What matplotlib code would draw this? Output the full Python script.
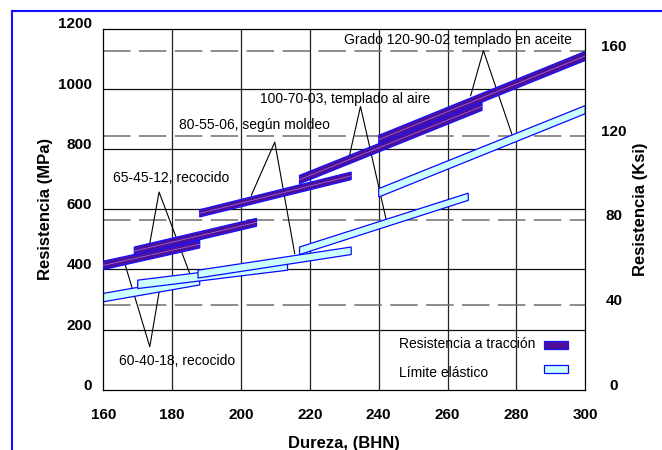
import matplotlib
matplotlib.use('Agg')
import matplotlib.pyplot as plt
from matplotlib.patches import Rectangle
from matplotlib.lines import Line2D

plt.rcParams['font.family'] = ['Liberation Sans', 'DejaVu Sans']

# ---------------- data ----------------
grade_labels = ['60-40-18, recocido', '65-45-12, recocido', '80-55-06, según moldeo',
                '100-70-03, templado al aire', 'Grado 120-90-02 templado en aceite']

# tensile strength bands (MPa) vs hardness (BHN)
ts_hb_start = [160, 169, 188, 217, 240]
ts_hb_end = [188, 204.5, 232, 270, 300]
ts_lo_start = [399, 447, 574, 684, 817]
ts_hi_start = [427, 474, 598, 712, 845]
ts_lo_end = [471, 543, 698, 928, 1094]
ts_hi_end = [496, 569, 723, 955, 1124]

# yield strength bands (MPa) vs hardness (BHN)
ys_hb_start = [160, 170, 187.5, 217, 240]
ys_hb_end = [188, 213.5, 232, 266, 300]
ys_lo_start = [292, 336, 371, 449, 640]
ys_hi_start = [320, 364, 397, 474, 668]
ys_lo_end = [348, 397, 449, 629, 917]
ys_hi_end = [376, 425, 474, 653, 944]

# annotation geometry (BHN, MPa)
label_x = [164.6, 162.7, 182.0, 205.4, 229.9]
label_y = [95, 702, 878, 967, 1163]
apex_x = [173.5, 176.2, 209.8, 234.7, 270.4]
apex_y = [142.6, 656.7, 822.5, 941, 1126.7]
ts_ptr_x = [166.3, 173.5, 203.0, 231.5, 266.7]
ts_ptr_y = [417, 486, 646, 778, 977]
ys_ptr_x = [176.4, 185.3, 215.6, 242.1, 278.7]
ys_ptr_y = [337, 380, 452, 568, 848]

x_ticks = [160, 180, 200, 220, 240, 260, 280, 300]
mpa_ticks = [0, 200, 400, 600, 800, 1000, 1200]
ksi_ticks = [0, 40, 80, 120, 160]
mpa_per_ksi = 7.03  # as drawn in the original chart

legend_labels = ['Resistencia a tracción', 'Límite elástico']

# ---------------- style ----------------
ts_face = '#4F0E9C'
ts_edge = '#1414FF'
ys_face = '#CCFFFF'
ys_edge = '#0A0AFF'

fig = plt.figure(figsize=(6.62, 4.5), dpi=100)
ax = fig.add_axes([103.3 / 662, 1 - 389.7 / 450, (585.3 - 103.3) / 662, (389.7 - 28.5) / 450])

ax.set_xlim(160, 300)
ax.set_ylim(0, 1200)
ax.set_xticks(x_ticks)
ax.set_yticks(mpa_ticks)

# solid grid
for xv in x_ticks[1:-1]:
    ax.axvline(xv, color='#222222', lw=0.9, zorder=1)
for yv in mpa_ticks[1:-1]:
    ax.axhline(yv, color='#111111', lw=0.9, zorder=1)
# dashed ksi grid
for kv in ksi_ticks[1:]:
    ax.axhline(kv * mpa_per_ksi, color='#6E6E6E', lw=1.1, dashes=(18, 5.5), zorder=1)

# annotation lines (under bands)
for i in range(len(grade_labels)):
    ax.plot([ts_ptr_x[i], apex_x[i], ys_ptr_x[i]], [ts_ptr_y[i], apex_y[i], ys_ptr_y[i]],
            color='black', lw=0.8, zorder=1.5)

# yield bands
for i in range(len(ys_hb_start)):
    xs = [ys_hb_start[i], ys_hb_end[i], ys_hb_end[i], ys_hb_start[i]]
    ys = [ys_lo_start[i], ys_lo_end[i], ys_hi_end[i], ys_hi_start[i]]
    ax.fill(xs, ys, facecolor=ys_face, edgecolor=ys_edge, lw=0.9, zorder=2 + i * 0.01)

# tensile bands
for i in range(len(ts_hb_start)):
    xs = [ts_hb_start[i], ts_hb_end[i], ts_hb_end[i], ts_hb_start[i]]
    ys = [ts_lo_start[i], ts_lo_end[i], ts_hi_end[i], ts_hi_start[i]]
    ax.fill(xs, ys, facecolor=ts_face, edgecolor=ts_edge, lw=0.9, zorder=3 + i * 0.01)
    ax.plot([ts_hb_start[i], ts_hb_end[i]],
            [(ts_lo_start[i] + ts_hi_start[i]) / 2, (ts_lo_end[i] + ts_hi_end[i]) / 2],
            color='#9C7FCC', lw=0.5, zorder=3.005 + i * 0.01)

# labels
for i, txt in enumerate(grade_labels):
    ax.text(label_x[i], label_y[i], txt, fontsize=10, ha='left', va='center', zorder=5)

# ticks
ax.tick_params(axis='both', length=0)
ax.tick_params(axis='x', pad=13.5)
ax.tick_params(axis='y', pad=8)
ax.set_xticklabels([str(v) for v in x_ticks], fontsize=11, fontweight='bold')
ax.set_yticklabels([str(v) for v in mpa_ticks], fontsize=11, fontweight='bold')
for lbl in ax.get_yticklabels():
    lbl.set_va('baseline')

for sp in ax.spines.values():
    sp.set_linewidth(0.9)
    sp.set_color('black')

ax2 = ax.twinx()
ax2.set_ylim(0, 1200 / mpa_per_ksi)
ax2.set_yticks(ksi_ticks)
ax2.tick_params(axis='y', length=0, pad=20.5)
ax2.set_yticklabels([str(v) for v in ksi_ticks], fontsize=11, fontweight='bold')
for lbl in ax2.get_yticklabels():
    lbl.set_ha('center')
    lbl.set_va('baseline')
for sp in ax2.spines.values():
    sp.set_visible(False)

ax.set_ylabel('Resistencia (MPa)', fontsize=12, fontweight='bold')
ax.yaxis.set_label_coords(-0.105, 0.5)
ax2.set_ylabel('Resistencia (Ksi)', fontsize=12, fontweight='bold')
ax2.yaxis.set_label_coords(1.098, 0.5)
ax.set_xlabel('Dureza, (BHN)', fontsize=12, fontweight='bold')
ax.xaxis.set_label_coords(0.5, -0.128)

# legend (text left-aligned, swatches aligned on the right, as in the original)
leg_text_x = 0.614
leg_text_y = [0.1265, 0.047]
leg_patch_x = 0.915
leg_patch_y = [0.1118, 0.0454]
leg_face = [ts_face, ys_face]
leg_edge = [ts_edge, ys_edge]
for i, lab in enumerate(legend_labels):
    ax.text(leg_text_x, leg_text_y[i], lab, transform=ax.transAxes, fontsize=10,
            ha='left', va='center', zorder=6)
    ax.add_patch(Rectangle((leg_patch_x, leg_patch_y[i]), 0.0498, 0.023,
                           transform=ax.transAxes, facecolor=leg_face[i],
                           edgecolor=leg_edge[i], lw=0.9, zorder=6))

# blue frame (open at right / bottom as in the original)
fig.add_artist(Line2D([12 / 662, 1.0], [1 - 10.5 / 450, 1 - 10.5 / 450],
                      transform=fig.transFigure, color='#1010FF', lw=1.5))
fig.add_artist(Line2D([12 / 662, 12 / 662], [1 - 10.5 / 450, 0.0],
                      transform=fig.transFigure, color='#1010FF', lw=1.5))

fig.savefig('out.png', dpi=100)
